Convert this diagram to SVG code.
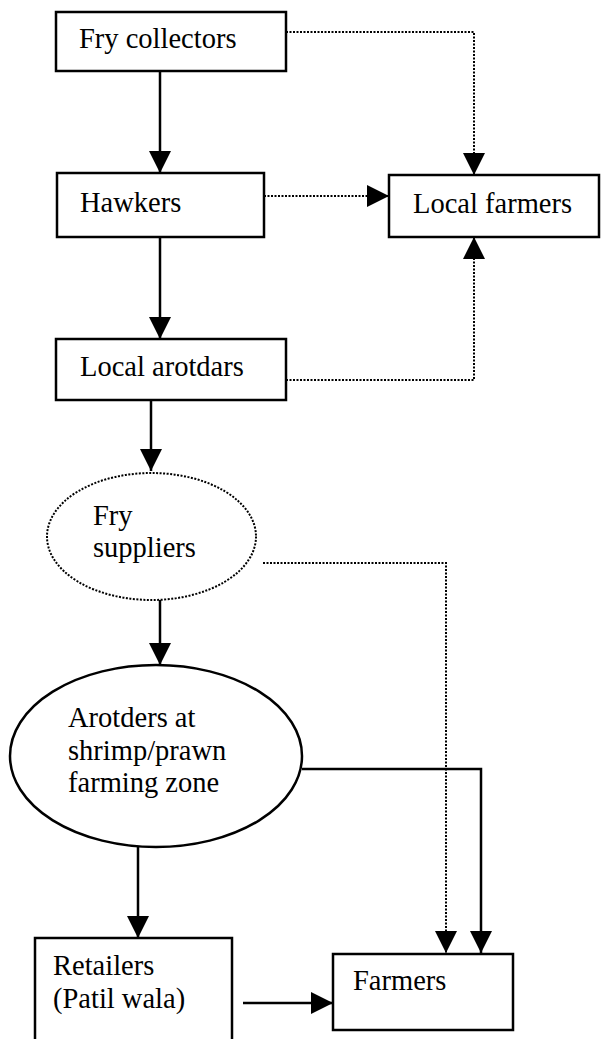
<svg xmlns="http://www.w3.org/2000/svg" width="605" height="1039" viewBox="0 0 605 1039">
<style>
.box{fill:#fff;stroke:#000;stroke-width:2.5}
.dotbox{fill:#fff;stroke:#000;stroke-width:2;stroke-dasharray:2 1.5}
.t{font-family:"Liberation Serif","Times New Roman",serif;font-size:28.5px;fill:#000}
.solid{fill:none;stroke:#000;stroke-width:2.5}
.dot{fill:none;stroke:#000;stroke-width:2;stroke-dasharray:2 1.5}
</style>
<defs>
<marker id="ah" markerUnits="userSpaceOnUse" markerWidth="22" markerHeight="22" viewBox="0 0 22 22" refX="22" refY="11" orient="auto">
<path d="M0,0 L22,11 L0,22 Z" fill="#000"/>
</marker>
</defs>
<rect width="605" height="1039" fill="#fff"/>
<g id="connectors">
<path class="solid" d="M160,71 V173" marker-end="url(#ah)"/>
<path class="dot" d="M286,32 H474 V175" marker-end="url(#ah)"/>
<path class="dot" d="M264,196 H389" marker-end="url(#ah)"/>
<path class="solid" d="M160,237 V339" marker-end="url(#ah)"/>
<path class="dot" d="M286,380 H474 V237" marker-end="url(#ah)"/>
<path class="solid" d="M151,400 V471" marker-end="url(#ah)"/>
<path class="dot" d="M263,563 H446 V953" marker-end="url(#ah)"/>
<path class="solid" d="M160,600 V665" marker-end="url(#ah)"/>
<path class="solid" d="M302,769 H481 V953" marker-end="url(#ah)"/>
<path class="solid" d="M138,847 V938" marker-end="url(#ah)"/>
<path class="solid" d="M243,1003 H333" marker-end="url(#ah)"/>
</g>
<g id="fry-collectors">
<rect class="box" x="56" y="12" width="230" height="59"/>
<text class="t" x="79" y="48">Fry collectors</text>
</g>
<g id="hawkers">
<rect class="box" x="57" y="173" width="207" height="64"/>
<text class="t" x="80" y="212">Hawkers</text>
</g>
<g id="local-farmers">
<rect class="box" x="389" y="175" width="210" height="62"/>
<text class="t" x="413" y="213">Local farmers</text>
</g>
<g id="local-arotdars">
<rect class="box" x="56" y="339" width="230" height="61"/>
<text class="t" x="80" y="376">Local arotdars</text>
</g>
<g id="fry-suppliers">
<ellipse class="dotbox" cx="151.5" cy="536.5" rx="104.5" ry="63.5"/>
<text class="t" x="93" y="525">Fry</text>
<text class="t" x="93" y="557">suppliers</text>
</g>
<g id="arotders">
<ellipse class="box" cx="156" cy="756" rx="146" ry="91"/>
<text class="t" x="68" y="727">Arotders at</text>
<text class="t" x="68" y="760">shrimp/prawn</text>
<text class="t" x="68" y="792">farming zone</text>
</g>
<g id="retailers">
<rect class="box" x="35" y="938" width="197" height="115"/>
<text class="t" x="53" y="975">Retailers</text>
<text class="t" x="53" y="1008">(Patil wala)</text>
</g>
<g id="farmers">
<rect class="box" x="333" y="954" width="180" height="76"/>
<text class="t" x="353" y="990">Farmers</text>
</g>
</svg>
